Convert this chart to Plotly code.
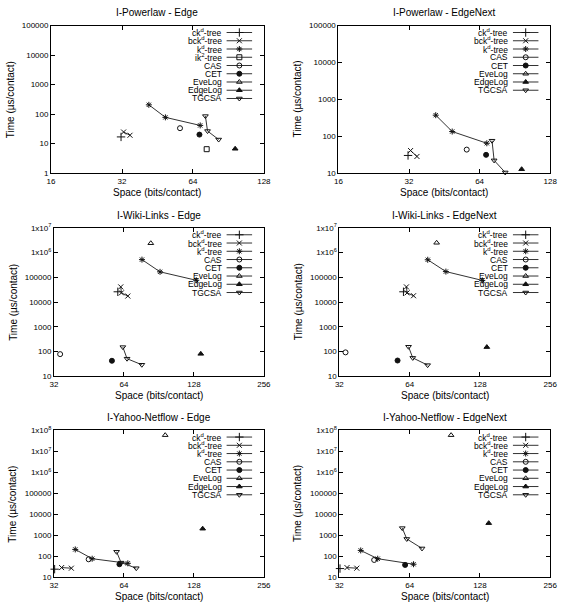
import math
import plotly.graph_objects as go

W, H = 568, 608

# ---------------- data ----------------
SERIES = ["ckd", "bckd", "kd", "ik2", "CAS", "CET", "EveLog", "EdgeLog", "TGCSA"]
LABELS = {
    "ckd": "ck<sup>d</sup>-tree",
    "bckd": "bck<sup>d</sup>-tree",
    "kd": "k<sup>d</sup>-tree",
    "ik2": "ik<sup>2</sup>-tree",
    "CAS": "CAS",
    "CET": "CET",
    "EveLog": "EveLog",
    "EdgeLog": "EdgeLog",
    "TGCSA": "TGCSA",
}

# I-Powerlaw: space (bits/contact)
powerlaw_space = {
    "ckd": [31.7], "bckd": [32.5, 34.6], "kd": [41.6, 48.9, 68.7], "ik2": [73.2],
    "CAS": [56.4], "CET": [68.2], "EveLog": [], "EdgeLog": [96.7],
    "TGCSA": [72.3, 73.8, 82.3],
}
powerlaw_edge_time = {
    "ckd": [16.7], "bckd": [24.5, 19.0], "kd": [205, 77, 41], "ik2": [6.4],
    "CAS": [33], "CET": [20], "EveLog": [], "EdgeLog": [6.6],
    "TGCSA": [85, 26.4, 13.6],
}
powerlaw_next_time = {
    "ckd": [29.8], "bckd": [40.5, 28.0], "kd": [370, 133, 64],
    "CAS": [43], "CET": [31], "EveLog": [], "EdgeLog": [12.6],
    "TGCSA": [75, 21.9, 10.3],
}

# I-Wiki-Links
wiki_space = {
    "ckd": [60.2], "bckd": [62.0, 62.4, 66.5], "kd": [76.5, 91.5, 131.0],
    "CAS": [34.0], "CET": [56.8], "EveLog": [83.5], "EdgeLog": [137.0],
    "TGCSA": [63.3, 66.0, 76.4],
}
wiki_edge_time = {
    "ckd": [26000], "bckd": [41000, 23500, 17500], "kd": [521000, 167000, 76000],
    "CAS": [78], "CET": [42], "EveLog": [2.4e6], "EdgeLog": [80],
    "TGCSA": [150, 51, 29],
}
wiki_next_time = {
    "ckd": [26000], "bckd": [41000, 23500, 18000], "kd": [513000, 171000, 75000],
    "CAS": [92], "CET": [43], "EveLog": [2.5e6], "EdgeLog": [150],
    "TGCSA": [155, 55, 28],
}

# I-Yahoo-Netflow
yahoo_space = {
    "ckd": [32.2], "bckd": [34.5, 38.0], "kd": [39.5, 46.7, 66.5],
    "CAS": [45.1], "CET": [61.2], "EveLog": [96.3], "EdgeLog": [139.6],
    "TGCSA": [59.5, 62.2, 72.3],
}
yahoo_edge_time = {
    "ckd": [24.8], "bckd": [29.5, 27.6], "kd": [215, 78, 47],
    "CAS": [73], "CET": [42.6], "EveLog": [5.8e7], "EdgeLog": [2080],
    "TGCSA": [166, 50.6, 27.6],
}
yahoo_next_time = {
    "ckd": [26.5], "bckd": [29.5, 27.6], "kd": [193, 78, 42.6],
    "CAS": [68], "CET": [39.5], "EveLog": [5.8e7], "EdgeLog": [3820],
    "TGCSA": [2220, 678, 240],
}

X_TICKS_PL = [16, 32, 64, 128]
X_TICKS_BIG = [32, 64, 128, 256]

# ---------------- styles ----------------
FONT = "Liberation Sans, Arial, Helvetica, sans-serif"
INK = "#111111"
LINE = "#333333"
STYLE = {
    "ckd": dict(symbol="cross-thin-open", size=6),
    "bckd": dict(symbol="x-thin-open", size=5),
    "kd": dict(symbol="asterisk-open", size=5),
    "ik2": dict(symbol="square-open", size=5),
    "CAS": dict(symbol="circle-open", size=5),
    "CET": dict(symbol="circle", size=5),
    "EveLog": dict(symbol="triangle-up-open", size=5),
    "EdgeLog": dict(symbol="triangle-up", size=5),
    "TGCSA": dict(symbol="triangle-down-open", size=5),
}


def ylabel(v):
    e = int(round(math.log10(v)))
    if e >= 6:
        return "1x10<sup>%d</sup>" % e
    return str(int(v))


panels = [
    dict(title="I-Powerlaw - Edge", space=powerlaw_space, time=powerlaw_edge_time,
         xt=X_TICKS_PL, yr=(0, 5), box=(48, 20, 265, 170),
         legend=["ckd", "bckd", "kd", "ik2", "CAS", "CET", "EveLog", "EdgeLog", "TGCSA"]),
    dict(title="I-Powerlaw - EdgeNext", space=powerlaw_space, time=powerlaw_next_time,
         xt=X_TICKS_PL, yr=(1, 5), box=(341, 20, 557, 170),
         legend=["ckd", "bckd", "kd", "CAS", "CET", "EveLog", "EdgeLog", "TGCSA"]),
    dict(title="I-Wiki-Links - Edge", space=wiki_space, time=wiki_edge_time,
         xt=X_TICKS_BIG, yr=(1, 7), box=(51, 226, 265, 377),
         legend=["ckd", "bckd", "kd", "CAS", "CET", "EveLog", "EdgeLog", "TGCSA"]),
    dict(title="I-Wiki-Links - EdgeNext", space=wiki_space, time=wiki_next_time,
         xt=X_TICKS_BIG, yr=(1, 7), box=(342, 226, 557, 377),
         legend=["ckd", "bckd", "kd", "CAS", "CET", "EveLog", "EdgeLog", "TGCSA"]),
    dict(title="I-Yahoo-Netflow - Edge", space=yahoo_space, time=yahoo_edge_time,
         xt=X_TICKS_BIG, yr=(1, 8), box=(51, 432, 265, 582),
         legend=["ckd", "bckd", "kd", "CAS", "CET", "EveLog", "EdgeLog", "TGCSA"]),
    dict(title="I-Yahoo-Netflow - EdgeNext", space=yahoo_space, time=yahoo_next_time,
         xt=X_TICKS_BIG, yr=(1, 8), box=(342, 432, 557, 582),
         legend=["ckd", "bckd", "kd", "CAS", "CET", "EveLog", "EdgeLog", "TGCSA"]),
]

fig = go.Figure()
annotations = []


def sfx(i):
    return "" if i == 1 else str(i)


for i, p in enumerate(panels, start=1):
    l, t, r, b = p["box"]
    pw, ph = r - l, b - t
    xd = [l / W, r / W]
    yd = [1 - b / H, 1 - t / H]
    s = sfx(i)
    ytv = [10 ** e for e in range(p["yr"][0], p["yr"][1] + 1)]
    common = dict(showline=True, linecolor="black", linewidth=1, mirror="ticks",
                  ticks="inside", ticklen=4, tickcolor="black", showgrid=False,
                  zeroline=False, ticklabeloverflow="allow",
                  tickfont=dict(size=8, color="black", family=FONT))
    fig.layout["xaxis" + s] = dict(
        type="log", domain=xd, anchor="y" + s,
        range=[math.log10(p["xt"][0]), math.log10(p["xt"][-1])],
        tickvals=p["xt"], ticktext=[str(v) for v in p["xt"]], **common)
    fig.layout["yaxis" + s] = dict(
        type="log", domain=yd, anchor="x" + s,
        range=list(p["yr"]), tickvals=ytv, ticktext=[ylabel(v) for v in ytv], **common)

    # data
    for key in SERIES:
        xs = p["space"].get(key, [])
        ys = p["time"].get(key, [])
        if not xs:
            continue
        st = STYLE[key]
        fig.add_trace(go.Scatter(
            x=xs, y=ys, xaxis="x" + s, yaxis="y" + s,
            mode="lines+markers" if len(xs) > 1 else "markers",
            line=dict(color=LINE, width=1),
            marker=dict(symbol=st["symbol"], size=st["size"], color=INK,
                        line=dict(color=INK, width=1)),
            showlegend=False, cliponaxis=False, name=LABELS[key]))

    # legend drawn in a pixel-scaled overlay axis
    li = i + 6
    ls = str(li)
    fig.layout["xaxis" + ls] = dict(domain=xd, anchor="y" + ls, range=[0, pw], visible=False,
                                    fixedrange=True)
    fig.layout["yaxis" + ls] = dict(domain=yd, anchor="x" + ls, range=[ph, 0], visible=False,
                                    fixedrange=True)
    for j, key in enumerate(p["legend"]):
        yy = 7 + 8.4 * j
        st = STYLE[key]
        fig.add_trace(go.Scatter(
            x=[pw - 38, pw - 12], y=[yy, yy], xaxis="x" + ls, yaxis="y" + ls,
            mode="lines", line=dict(color=LINE, width=1), showlegend=False,
            hoverinfo="skip"))
        fig.add_trace(go.Scatter(
            x=[pw - 25], y=[yy], xaxis="x" + ls, yaxis="y" + ls,
            mode="markers", marker=dict(symbol=st["symbol"], size=st["size"], color=INK,
                                        line=dict(color=INK, width=1)),
            showlegend=False, hoverinfo="skip"))
        annotations.append(dict(
            x=pw - 41, y=yy, xref="x" + ls, yref="y" + ls, text=LABELS[key],
            showarrow=False, xanchor="right", yanchor="middle",
            font=dict(size=8.5, color="black", family=FONT)))

    # titles
    cx = (l + r) / 2 / W
    annotations.append(dict(x=cx, y=1 - (t - 13) / H, xref="paper", yref="paper",
                            text=p["title"], showarrow=False, xanchor="center",
                            yanchor="middle", font=dict(size=10, color="black", family=FONT)))
    annotations.append(dict(x=cx, y=1 - (b + 19.5) / H, xref="paper", yref="paper",
                            text="Space (bits/contact)", showarrow=False, xanchor="center",
                            yanchor="middle", font=dict(size=10, color="black", family=FONT)))
    annotations.append(dict(x=(l - 42) / W, y=1 - (t + b) / 2 / H, xref="paper", yref="paper",
                            text="Time (µs/contact)", showarrow=False, textangle=-90,
                            xanchor="center", yanchor="middle",
                            font=dict(size=10, color="black", family=FONT)))

fig.update_layout(
    width=W, height=H, margin=dict(l=0, r=0, t=0, b=0),
    paper_bgcolor="white", plot_bgcolor="rgba(0,0,0,0)",
    showlegend=False, annotations=annotations,
    font=dict(family=FONT, color="black"),
)

fig.write_html(
    "out.html",
    config={"displayModeBar": False, "staticPlot": True},
    post_script="document.body.style.margin='0';document.body.style.padding='0';"
                "document.body.style.overflow='hidden';",
)
